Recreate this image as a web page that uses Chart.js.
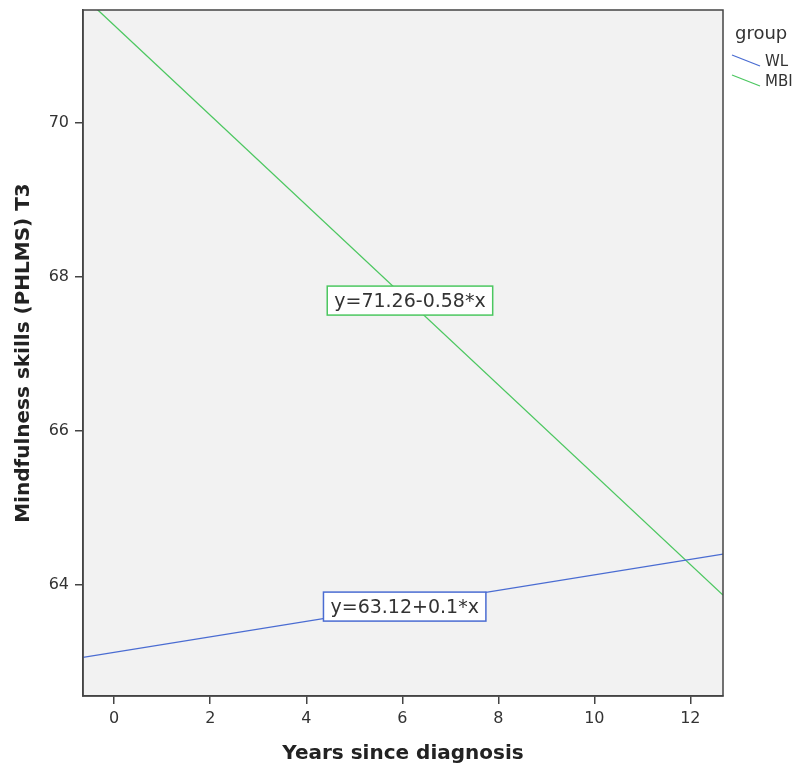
<!DOCTYPE html>
<html>
<head>
<meta charset="utf-8">
<script src="https://cdn.jsdelivr.net/npm/chart.js@4"></script>
<style>
  html, body { margin: 0; padding: 0; background: #fff; }
  #wrap { width: 795px; height: 766px; }
</style>
</head>
<body>
<div id="wrap"><canvas id="fitChart"></canvas></div>
<script>
// values
var xEnds = [-0.65, 12.68];
var wlValues = [63.06, 64.40];
var mbiValues = [71.64, 63.87];
var xTicks = [0, 2, 4, 6, 8, 10, 12];
var yTicks = [64, 66, 68, 70];
var groups = ['WL', 'MBI'];
var groupColors = ['#4a6cd2', '#4cc760'];
var fitLabels = [
    { text: 'y=63.12+0.1*x', x: 6.05, y: 63.72, color: '#4a6cd2' },
    { text: 'y=71.26-0.58*x', x: 6.16, y: 67.69, color: '#4cc760' }
];

var axisColor = '#444444';
var textColor = '#333333';
var font = '"DejaVu Sans", sans-serif';

function toPoints(xs, ys) {
    return xs.map(function(x, i) { return { x: x, y: ys[i] }; });
}

var framePlugin = {
    id: 'frame',
    beforeDraw: function(chart) {
        var a = chart.chartArea, ctx = chart.ctx;
        ctx.save();
        ctx.fillStyle = '#f2f2f2';
        ctx.fillRect(a.left, a.top, a.right - a.left, a.bottom - a.top);
        ctx.restore();
    },
    afterDraw: function(chart) {
        var a = chart.chartArea, ctx = chart.ctx;
        var sx = chart.scales.x, sy = chart.scales.y;
        ctx.save();
        ctx.strokeStyle = axisColor;
        ctx.lineWidth = 1.5;
        ctx.strokeRect(a.left, a.top, a.right - a.left, a.bottom - a.top);

        // fit line labels
        ctx.font = '19px ' + font;
        ctx.textAlign = 'center';
        ctx.textBaseline = 'middle';
        fitLabels.forEach(function(l) {
            var cx = sx.getPixelForValue(l.x), cy = sy.getPixelForValue(l.y);
            var w = ctx.measureText(l.text).width + 14, h = 29;
            ctx.fillStyle = '#ffffff';
            ctx.fillRect(cx - w / 2, cy - h / 2, w, h);
            ctx.strokeStyle = l.color;
            ctx.lineWidth = 1.5;
            ctx.strokeRect(cx - w / 2, cy - h / 2, w, h);
            ctx.fillStyle = textColor;
            ctx.fillText(l.text, cx, cy + 1);
        });

        // legend
        var lx = a.right + 9;
        ctx.textAlign = 'left';
        ctx.fillStyle = textColor;
        ctx.font = '18px ' + font;
        ctx.fillText('group', lx + 3, 34);
        ctx.font = '15px ' + font;
        groups.forEach(function(g, i) {
            var y0 = 55 + i * 20;
            ctx.strokeStyle = groupColors[i];
            ctx.lineWidth = 1.3;
            ctx.beginPath();
            ctx.moveTo(lx, y0);
            ctx.lineTo(lx + 28, y0 + 11);
            ctx.stroke();
            ctx.fillStyle = textColor;
            ctx.fillText(g, lx + 33, y0 + 7);
        });
        ctx.restore();
    }
};

new Chart(document.getElementById('fitChart'), {
    type: 'line',
    data: {
        datasets: groups.map(function(g, i) {
            return {
                label: g,
                data: toPoints(xEnds, i === 0 ? wlValues : mbiValues),
                borderColor: groupColors[i],
                borderWidth: 1.3,
                pointRadius: 0,
                tension: 0,
                fill: false
            };
        })
    },
    options: {
        responsive: true,
        maintainAspectRatio: false,
        animation: false,
        layout: { padding: { top: 10, right: 72, left: 0, bottom: 0 } },
        plugins: { legend: { display: false }, tooltip: { enabled: false } },
        scales: {
            x: {
                type: 'linear',
                min: -0.65,
                max: 12.68,
                afterBuildTicks: function(axis) {
                    axis.ticks = xTicks.map(function(v) { return { value: v }; });
                },
                afterFit: function(axis) { axis.height = 70; axis.paddingLeft = 0; axis.paddingRight = 0; },
                grid: { drawOnChartArea: false, drawTicks: true, tickLength: 8, color: axisColor, lineWidth: 1.5 },
                border: { display: true, color: axisColor, width: 1.5 },
                ticks: { color: textColor, font: { family: font, size: 16 }, padding: 5, maxRotation: 0 },
                title: {
                    display: true,
                    text: 'Years since diagnosis',
                    color: '#222222',
                    font: { family: font, size: 20, weight: 'bold' },
                    padding: { top: 6, bottom: 0 }
                }
            },
            y: {
                type: 'linear',
                min: 62.56,
                max: 71.46,
                afterBuildTicks: function(axis) {
                    axis.ticks = yTicks.map(function(v) { return { value: v }; });
                },
                afterFit: function(axis) { axis.width = 83; axis.paddingTop = 0; axis.paddingBottom = 0; },
                grid: { drawOnChartArea: false, drawTicks: true, tickLength: 8, color: axisColor, lineWidth: 1.5 },
                border: { display: true, color: axisColor, width: 1.5 },
                ticks: { color: textColor, font: { family: font, size: 16 }, padding: 6 },
                title: {
                    display: true,
                    text: 'Mindfulness skills (PHLMS) T3',
                    color: '#222222',
                    font: { family: font, size: 20, weight: 'bold' },
                    padding: { top: 12, bottom: 0 }
                }
            }
        }
    },
    plugins: [framePlugin]
});
</script>
</body>
</html>
